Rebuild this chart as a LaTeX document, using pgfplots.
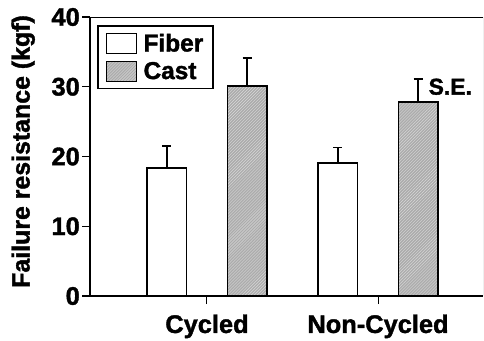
\documentclass[border=0pt]{standalone}
\usepackage{fontspec}
\setmainfont{Liberation Sans}[BoldFeatures={FakeBold=1.5}]
\usepackage{pgfplots}
\pgfplotsset{compat=1.18}
\usetikzlibrary{patterns}
\begin{document}
\begin{tikzpicture}[x=1bp,y=1bp]
\useasboundingbox (0,0) rectangle (484,340);
\begin{axis}[
  at={(90bp,44bp)}, anchor=south west,
  width=393bp, height=279bp, scale only axis,
  xmin=-0.684, xmax=1.614, ymin=0, ymax=40,
  axis x line*=bottom, axis y line*=left,
  axis line style={line width=2pt},
  ytick={0,10,20,30,40},
  xtick={0,1}, xticklabels={Cycled,Non-Cycled},
  tick style={black, line width=1.5pt},
  major tick length=8bp,
  tick align=outside,
  xtick style={line width=1pt},
  /pgf/number format/assume math mode=true,
  ticklabel style={font=\bfseries\fontsize{25.5}{26}\selectfont},
  xticklabel style={yshift=-7bp},
  yticklabel style={inner sep=1pt, xshift=-1bp},
  ylabel={Failure resistance (kgf)},
  ylabel style={font=\bfseries\fontsize{25}{26}\selectfont, at={(axis description cs:-0.17,0.518)}, anchor=center},
  ybar, bar width=0.23, bar shift=0pt,
  legend style={at={(axis description cs:0.018,0.971)}, anchor=north west,
    draw=black, line width=1.5pt, font=\bfseries\fontsize{24.5}{25}\selectfont,
    inner xsep=8bp, inner ysep=6bp, row sep=5bp},
  legend image code/.code={\draw[#1, line width=1.5pt] (0bp,-10bp) rectangle (30bp,10bp);
    \pgfpathmoveto{\pgfqpoint{35bp}{0bp}}\pgfusepath{discard}},
  legend cell align=left,
]
\addplot[draw=black, line width=1.8pt, fill=white,
  error bars/.cd, y dir=plus, y explicit,
  error bar style={line width=1.8pt, black},
  error mark options={rotate=90, mark size=4.5bp, line width=1.8pt, black}]
  coordinates {(-0.235,18.4) +- (0,3.1) (0.765,19.1) +- (0,2.2)};
\addlegendentry{Fiber}
\addplot[draw=black, line width=1.8pt, fill=gray!65,
  postaction={pattern=north east lines, pattern color=gray!30},
  error bars/.cd, y dir=plus, y explicit,
  error bar style={line width=1.8pt, black},
  error mark options={rotate=90, mark size=4.5bp, line width=1.8pt, black}]
  coordinates {(0.235,30.1) +- (0,4.0) (1.235,27.8) +- (0,3.3)};
\addlegendentry{Cast}
\draw[line width=1.2pt] (rel axis cs:0,1) -- (rel axis cs:1,1);
\draw[line width=0.6pt, gray] (rel axis cs:1,0) -- (rel axis cs:1,1);
\node[anchor=west, font=\bfseries\fontsize{23}{24}\selectfont, inner sep=0pt] at (axis cs:1.295,30.0) {S.E.};
\end{axis}
\end{tikzpicture}
\end{document}
